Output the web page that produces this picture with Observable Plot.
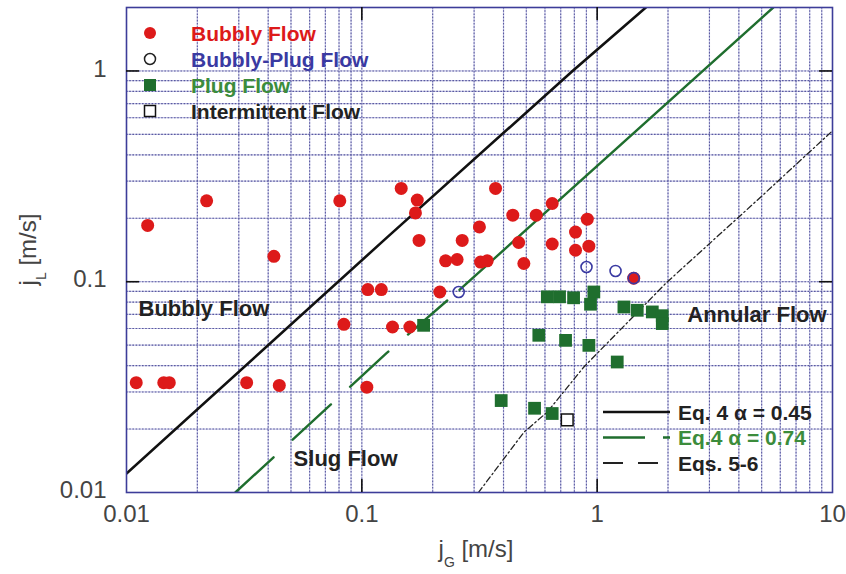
<!DOCTYPE html>
<html>
<head>
<meta charset="utf-8">
<script src="https://cdn.jsdelivr.net/npm/d3@7"></script>
<script src="https://cdn.jsdelivr.net/npm/@observablehq/plot@0.6"></script>
<style>
  html, body { margin: 0; padding: 0; background: #fff; }
  #chart { width: 846px; height: 574px; }
</style>
</head>
<body>
<div id="chart"></div>
<script>
// ---------- data ----------
const bubblyX = [0.011,0.0144,0.0152,0.0123,0.0219,0.0324,0.0423,0.0446,0.0806,0.0839,0.105,0.106,0.121,0.135,0.160,0.147,0.172,0.169,0.175,0.2145,0.227,0.254,0.267,0.316,0.3195,0.341,0.370,0.438,0.464,0.488,0.551,0.644,0.644,0.809,0.908,0.809,0.922,1.43];
const bubblyY = [0.0332,0.0332,0.0332,0.185,0.242,0.0332,0.132,0.0322,0.242,0.0628,0.0316,0.0918,0.0918,0.061,0.061,0.277,0.244,0.212,0.157,0.0894,0.1256,0.1275,0.157,0.182,0.124,0.1256,0.277,0.207,0.1535,0.122,0.207,0.235,0.151,0.172,0.198,0.141,0.1475,0.104];

const bubblyPlugX = [0.258,0.901,1.197,1.43];
const bubblyPlugY = [0.0894,0.1175,0.1125,0.104];

const plugX = [0.183,0.614,0.692,0.794,0.968,0.937,1.299,1.48,1.715,1.891,1.891,0.565,0.734,0.922,1.217,0.391,0.542,0.644];
const plugY = [0.0621,0.0848,0.0848,0.0839,0.0894,0.0782,0.0759,0.0732,0.0719,0.0690,0.0633,0.0557,0.0527,0.0499,0.0416,0.0273,0.0251,0.0237];

const intermittentX = [0.746];
const intermittentY = [0.0221];

// Eq. 4, alpha = 0.45
const eq45X = [0.01,0.127,0.786,1.61];
const eq45Y = [0.0123,0.161,1.0,2.0];
// Eq. 4, alpha = 0.74 (lower dashed part, upper solid part)
const eq74LowX = [0.029,0.127,0.26];
const eq74LowY = [0.01,0.0457,0.0915];
const eq74HighX = [0.26,5.6];
const eq74HighY = [0.0915,2.0];
// Eqs. 5-6
const eq56X = [0.313,0.488,0.614,0.878,1.97,4.79,10];
const eq56Y = [0.01,0.0193,0.0241,0.0394,0.099,0.2436,0.52];

const xTicks = [0.01,0.1,1,10];
const yTicks = [0.01,0.1,1];
const xGrid = [0.02,0.03,0.04,0.05,0.06,0.07,0.08,0.09,0.1,0.2,0.3,0.4,0.5,0.6,0.7,0.8,0.9,1,2,3,4,5,6,7,8,9];
const yGrid = [0.02,0.03,0.04,0.05,0.06,0.07,0.08,0.09,0.1,0.2,0.3,0.4,0.5,0.6,0.7,0.8,0.9,1];
const xMajorInner = [0.1,1];
const yMajorInner = [0.1,1];

const regionLabels = ["Bubbly Flow","Slug Flow","Annular Flow"];
const regionX = [0.01125,0.0513,2.415];
const regionY = [0.074,0.01435,0.0694];

const legendPointLabels = ["Bubbly Flow","Bubbly-Plug Flow","Plug Flow","Intermittent Flow"];
const legendLineLabels = ["Eq. 4 \u03b1 = 0.45","Eq.4 \u03b1 = 0.74","Eqs. 5-6"];

// ---------- build ----------
const pts = (xs, ys) => xs.map((x, i) => ({x, y: ys[i]}));
const bubbly = pts(bubblyX, bubblyY);
const bubblyPlug = pts(bubblyPlugX, bubblyPlugY);
const plug = pts(plugX, plugY);
const inter = pts(intermittentX, intermittentY);
const regions = regionLabels.map((t, i) => ({t, x: regionX[i], y: regionY[i]}));

const W = 846, H = 574, mL = 126, mR = 14, mT = 7, mB = 82;
const pw = W - mL - mR, ph = H - mT - mB;

const RED = "#dd1a1a", BLUE = "#3a3aa2", GREEN = "#1f6e2e", GREENTXT = "#3c8c3c";
const FONT = "'Liberation Sans', Arial, Helvetica, sans-serif";

const chart = Plot.plot({
  width: W, height: H,
  marginLeft: mL, marginRight: mR, marginTop: mT, marginBottom: mB,
  style: {background: "#fff", fontFamily: FONT, fontSize: "24px", color: "#444"},
  x: {type: "log", domain: [0.01, 10]},
  y: {type: "log", domain: [0.01, 2]},
  marks: [
    // grid (light solid under dotted)
    Plot.ruleX(xGrid, {stroke: "#c6c6e6", strokeWidth: 1.2}),
    Plot.ruleY(yGrid, {stroke: "#c6c6e6", strokeWidth: 1.2}),
    Plot.ruleX(xGrid, {stroke: "#5a5aa0", strokeWidth: 1.1, strokeDasharray: "1.6,1.6"}),
    Plot.ruleY(yGrid, {stroke: "#5a5aa0", strokeWidth: 1.1, strokeDasharray: "1.6,1.6"}),
    // lines
    Plot.line(pts(eq45X, eq45Y), {x: "x", y: "y", stroke: "#111", strokeWidth: 2.6, clip: true}),
    Plot.line(pts(eq74LowX, eq74LowY), {x: "x", y: "y", stroke: GREEN, strokeWidth: 2.4, strokeDasharray: "52,26", clip: true}),
    Plot.line(pts(eq74HighX, eq74HighY), {x: "x", y: "y", stroke: GREEN, strokeWidth: 2.4, clip: true}),
    Plot.line(pts(eq56X, eq56Y), {x: "x", y: "y", stroke: "#222", strokeWidth: 1.3, strokeDasharray: "6,3,1.5,3", clip: true}),
    // points
    Plot.dot(bubbly, {x: "x", y: "y", r: 6.5, fill: RED}),
    Plot.dot(bubblyPlug, {x: "x", y: "y", r: 5.5, fill: "none", stroke: BLUE, strokeWidth: 1.6}),
    Plot.dot(plug, {x: "x", y: "y", r: 7.2, symbol: "square", fill: GREEN}),
    Plot.dot(inter, {x: "x", y: "y", r: 6.6, symbol: "square", fill: "#fff", stroke: "#111", strokeWidth: 1.5}),
    // frame and inner major ticks
    Plot.frame({stroke: "#3d3d99", strokeWidth: 1.6}),
    Plot.ruleY(yMajorInner, {stroke: "#111", strokeWidth: 1.6, insetRight: pw - 13}),
    Plot.ruleY(yMajorInner, {stroke: "#111", strokeWidth: 1.6, insetLeft: pw - 13}),
    Plot.ruleX(xMajorInner, {stroke: "#111", strokeWidth: 1.6, insetTop: ph - 13}),
    Plot.ruleX(xMajorInner, {stroke: "#111", strokeWidth: 1.6, insetBottom: ph - 13}),
    // axes
    Plot.axisX(xTicks, {tickSize: 0, tickPadding: 12, tickFormat: d => String(d), label: null, fontSize: 24, fill: "#444"}),
    Plot.axisY(yTicks, {tickSize: 0, tickPadding: 20, tickFormat: d => String(d), label: null, fontSize: 24, fill: "#444", dy: -2}),
    // region labels
    Plot.text(regions, {x: "x", y: "y", text: "t", textAnchor: "start", fontSize: 22, fontWeight: "bold", fill: "#222"})
  ]
});
document.getElementById("chart").appendChild(chart);

// ---------- axis titles (with subscripts) and legends ----------
const svg = d3.select(chart);
const xl = svg.append("text")
  .attr("x", mL + pw / 2 - 3).attr("y", 557)
  .attr("text-anchor", "middle")
  .style("font-family", FONT).style("font-size", "24px").attr("fill", "#444");
xl.append("tspan").text("j");
xl.append("tspan").attr("dy", 10).style("font-size", "14px").text("G");
xl.append("tspan").attr("dy", -10).text(" [m/s]");

const yl = svg.append("text")
  .attr("transform", `translate(36,${mT + ph / 2}) rotate(-90)`)
  .attr("text-anchor", "middle")
  .style("font-family", FONT).style("font-size", "24px").attr("fill", "#444");
yl.append("tspan").text("j");
yl.append("tspan").attr("dy", 10).style("font-size", "14px").text("L");
yl.append("tspan").attr("dy", -10).text(" [m/s]");

// point legend (top-left)
const lg = svg.append("g").attr("text-anchor", "start")
  .style("font-family", FONT).style("font-size", "21px").style("font-weight", "bold");
const legColors = [RED, BLUE, GREENTXT, "#222"];
legendPointLabels.forEach((t, i) => {
  const cy = 33 + i * 26;
  if (i === 0) lg.append("circle").attr("cx", 150).attr("cy", cy).attr("r", 6).attr("fill", RED);
  if (i === 1) lg.append("circle").attr("cx", 150).attr("cy", cy).attr("r", 5.5).attr("fill", "#fff").attr("stroke", "#222").attr("stroke-width", 1.5);
  if (i === 2) lg.append("rect").attr("x", 144).attr("y", cy - 6).attr("width", 12).attr("height", 12).attr("fill", GREEN);
  if (i === 3) lg.append("rect").attr("x", 144.5).attr("y", cy - 5.5).attr("width", 11).attr("height", 11).attr("fill", "#fff").attr("stroke", "#111").attr("stroke-width", 1.5);
  lg.append("text").attr("x", 191).attr("y", cy).attr("dy", "0.36em").attr("text-anchor", "start").attr("fill", legColors[i]).text(t);
});

// line legend (bottom-right)
const ll = svg.append("g").attr("text-anchor", "start")
  .style("font-family", FONT).style("font-size", "21px").style("font-weight", "bold");
const lineStyles = [
  {stroke: "#111", dash: null, w: 2.6, color: "#222"},
  {stroke: GREEN, dash: "42,18", w: 2.6, color: GREENTXT},
  {stroke: "#222", dash: "20,15", w: 1.8, color: "#222"}
];
legendLineLabels.forEach((t, i) => {
  const cy = 412 + i * 25.5;
  const s = lineStyles[i];
  const ln = ll.append("line").attr("x1", 603).attr("x2", 670).attr("y1", cy).attr("y2", cy)
    .attr("stroke", s.stroke).attr("stroke-width", s.w);
  if (s.dash) ln.attr("stroke-dasharray", s.dash);
  ll.append("text").attr("x", 678).attr("y", cy).attr("dy", "0.36em").attr("text-anchor", "start").attr("fill", s.color).text(t);
});
</script>
</body>
</html>
